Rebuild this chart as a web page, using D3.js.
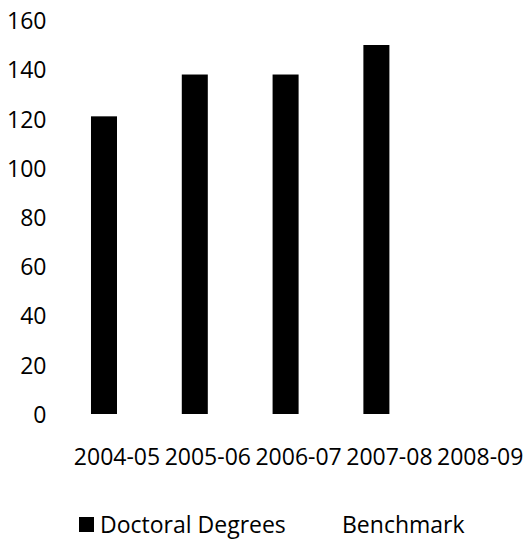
<!DOCTYPE html>
<html>
<head>
<meta charset="utf-8">
<script src="https://cdn.jsdelivr.net/npm/d3@7"></script>
<style>
  html, body { margin: 0; padding: 0; background: #ffffff; }
  svg { display: block; }
  text { font-family: "Open Sans", "Noto Sans", sans-serif; fill: #000; }
</style>
</head>
<body>
<svg id="chart" width="528" height="540"></svg>
<script>
// ---- data ----
const categories = ["2004-05", "2005-06", "2006-07", "2007-08", "2008-09"];
const seriesNames = ["Doctoral Degrees", "Benchmark"];
const doctoralDegrees = [121, 138, 138, 150, null];
const benchmark = [null, null, null, null, null];
const yTicks = [0, 20, 40, 60, 80, 100, 120, 140, 160];
const seriesColors = ["#000000", "none"];

const seriesValues = [doctoralDegrees, benchmark];

const svg = d3.select("#chart");
const fontSize = 23;

const x0 = d3.scaleBand()
  .domain(categories)
  .range([71.6, 525.6])
  .paddingInner(0.427)
  .paddingOuter(0.2135);

const x1 = d3.scaleBand()
  .domain(seriesNames)
  .range([0, x0.bandwidth()])
  .padding(0);

const y = d3.scaleLinear().domain([0, 160]).range([414, 20.4]);

// y axis
const yAxis = svg.append("g")
  .attr("transform", "translate(46.5,0)")
  .call(d3.axisLeft(y).tickValues(yTicks).tickSize(0).tickPadding(0));
yAxis.select(".domain").remove();
yAxis.selectAll("text")
  .style("font-size", fontSize + "px")
  .attr("fill", "#000")
  .attr("dy", "0.36em");

// bars
seriesNames.forEach((s, si) => {
  svg.append("g")
    .selectAll("rect")
    .data(categories.map((c, i) => ({ c, v: seriesValues[si][i] })).filter(d => d.v != null))
    .join("rect")
    .attr("x", d => x0(d.c) + x1(s))
    .attr("y", d => y(d.v))
    .attr("width", x1.bandwidth())
    .attr("height", d => y(0) - y(d.v))
    .attr("fill", seriesColors[si]);
});

// x axis labels
const xAxis = svg.append("g")
  .attr("transform", "translate(0,448.7)")
  .call(d3.axisBottom(x0).tickSize(0).tickPadding(0));
xAxis.select(".domain").remove();
xAxis.selectAll("text")
  .style("font-size", fontSize + "px")
  .attr("fill", "#000")
  .attr("dy", "0.71em");

// legend
const legendX = [79, 321];
const legend = svg.append("g");
seriesNames.forEach((s, i) => {
  const g = legend.append("g").attr("transform", `translate(${legendX[i]},0)`);
  g.append("rect")
    .attr("x", 0).attr("y", 517)
    .attr("width", 15).attr("height", 15)
    .attr("fill", seriesColors[i]);
  g.append("text")
    .attr("x", 21).attr("y", 533)
    .style("font-size", fontSize + "px")
    .text(s);
});
</script>
</body>
</html>
